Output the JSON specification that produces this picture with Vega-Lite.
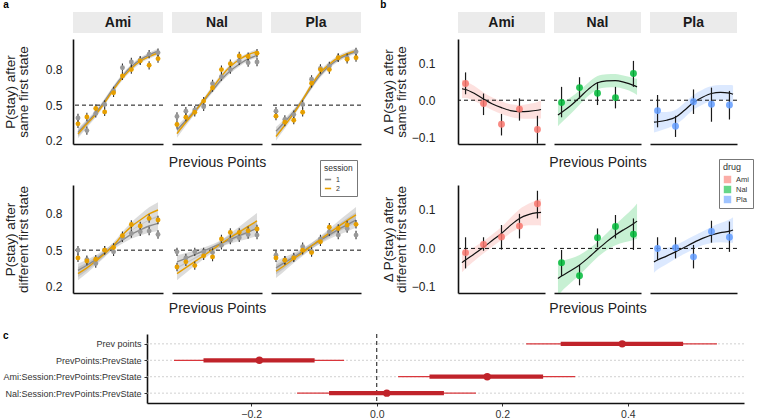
{
"$schema": "https://vega.github.io/schema/vega-lite/v6.json",
"background": "white",
"padding": {"left": 2, "top": 0, "right": 5, "bottom": 3},
"config": {
  "font": "Liberation Sans",
  "view": {"stroke": null},
  "axis": {"domainColor": "#111", "domainWidth": 1.6, "grid": false, "ticks": false, "labelFontSize": 12, "labelColor": "#222", "titleFontSize": 13.5, "titleFontWeight": "normal", "titleColor": "#222", "titleLineHeight": 13, "labelFont": "Liberation Sans", "titleFont": "Liberation Sans", "minExtent": 0},
  "title": {"fontSize": 10, "fontWeight": "bold", "anchor": "start", "frame": "bounds", "color": "#000", "font": "Liberation Sans"},
  "legend": {"titleFontSize": 8.5, "titleFontWeight": "normal", "labelFontSize": 7, "titleColor": "#333", "labelColor": "#333", "strokeColor": "#777", "fillColor": "white", "padding": 4, "rowPadding": 1, "titlePadding": 3, "labelOffset": 4, "cornerRadius": 0, "titleFont": "Liberation Sans", "labelFont": "Liberation Sans"}
},
"datasets": {
  "strips": [{"drug": "Ami"}, {"drug": "Nal"}, {"drug": "Pla"}],
  "apts": [
    {"drug":"Ami","cond":"same","session":"1","x":1,"y":0.392,"lo":0.357,"hi":0.427},
    {"drug":"Ami","cond":"same","session":"1","x":2,"y":0.285,"lo":0.25,"hi":0.32},
    {"drug":"Ami","cond":"same","session":"1","x":3,"y":0.43,"lo":0.395,"hi":0.465},
    {"drug":"Ami","cond":"same","session":"1","x":4,"y":0.506,"lo":0.471,"hi":0.541},
    {"drug":"Ami","cond":"same","session":"1","x":5,"y":0.62,"lo":0.585,"hi":0.655},
    {"drug":"Ami","cond":"same","session":"1","x":6,"y":0.816,"lo":0.781,"hi":0.851},
    {"drug":"Ami","cond":"same","session":"1","x":7,"y":0.864,"lo":0.829,"hi":0.899},
    {"drug":"Ami","cond":"same","session":"1","x":8,"y":0.88,"lo":0.845,"hi":0.915},
    {"drug":"Ami","cond":"same","session":"1","x":9,"y":0.93,"lo":0.895,"hi":0.965},
    {"drug":"Ami","cond":"same","session":"1","x":10,"y":0.943,"lo":0.908,"hi":0.978},
    {"drug":"Ami","cond":"same","session":"2","x":1,"y":0.342,"lo":0.307,"hi":0.377},
    {"drug":"Ami","cond":"same","session":"2","x":2,"y":0.4,"lo":0.365,"hi":0.435},
    {"drug":"Ami","cond":"same","session":"2","x":3,"y":0.472,"lo":0.437,"hi":0.507},
    {"drug":"Ami","cond":"same","session":"2","x":4,"y":0.443,"lo":0.408,"hi":0.478},
    {"drug":"Ami","cond":"same","session":"2","x":5,"y":0.604,"lo":0.569,"hi":0.639},
    {"drug":"Ami","cond":"same","session":"2","x":6,"y":0.746,"lo":0.711,"hi":0.781},
    {"drug":"Ami","cond":"same","session":"2","x":7,"y":0.8,"lo":0.765,"hi":0.835},
    {"drug":"Ami","cond":"same","session":"2","x":8,"y":0.873,"lo":0.838,"hi":0.908},
    {"drug":"Ami","cond":"same","session":"2","x":9,"y":0.836,"lo":0.801,"hi":0.871},
    {"drug":"Ami","cond":"same","session":"2","x":10,"y":0.892,"lo":0.857,"hi":0.927},
    {"drug":"Nal","cond":"same","session":"1","x":1,"y":0.405,"lo":0.37,"hi":0.44},
    {"drug":"Nal","cond":"same","session":"1","x":2,"y":0.449,"lo":0.414,"hi":0.484},
    {"drug":"Nal","cond":"same","session":"1","x":3,"y":0.458,"lo":0.423,"hi":0.493},
    {"drug":"Nal","cond":"same","session":"1","x":4,"y":0.486,"lo":0.451,"hi":0.521},
    {"drug":"Nal","cond":"same","session":"1","x":5,"y":0.68,"lo":0.645,"hi":0.715},
    {"drug":"Nal","cond":"same","session":"1","x":6,"y":0.74,"lo":0.705,"hi":0.775},
    {"drug":"Nal","cond":"same","session":"1","x":7,"y":0.8,"lo":0.765,"hi":0.835},
    {"drug":"Nal","cond":"same","session":"1","x":8,"y":0.873,"lo":0.838,"hi":0.908},
    {"drug":"Nal","cond":"same","session":"1","x":9,"y":0.858,"lo":0.823,"hi":0.893},
    {"drug":"Nal","cond":"same","session":"1","x":10,"y":0.864,"lo":0.829,"hi":0.899},
    {"drug":"Nal","cond":"same","session":"2","x":1,"y":0.336,"lo":0.301,"hi":0.371},
    {"drug":"Nal","cond":"same","session":"2","x":2,"y":0.398,"lo":0.363,"hi":0.433},
    {"drug":"Nal","cond":"same","session":"2","x":3,"y":0.44,"lo":0.405,"hi":0.475},
    {"drug":"Nal","cond":"same","session":"2","x":4,"y":0.534,"lo":0.499,"hi":0.569},
    {"drug":"Nal","cond":"same","session":"2","x":5,"y":0.647,"lo":0.612,"hi":0.682},
    {"drug":"Nal","cond":"same","session":"2","x":6,"y":0.8,"lo":0.765,"hi":0.835},
    {"drug":"Nal","cond":"same","session":"2","x":7,"y":0.85,"lo":0.815,"hi":0.885},
    {"drug":"Nal","cond":"same","session":"2","x":8,"y":0.915,"lo":0.88,"hi":0.95},
    {"drug":"Nal","cond":"same","session":"2","x":9,"y":0.91,"lo":0.875,"hi":0.945},
    {"drug":"Nal","cond":"same","session":"2","x":10,"y":0.938,"lo":0.903,"hi":0.973},
    {"drug":"Pla","cond":"same","session":"1","x":1,"y":0.449,"lo":0.414,"hi":0.484},
    {"drug":"Pla","cond":"same","session":"1","x":2,"y":0.379,"lo":0.344,"hi":0.414},
    {"drug":"Pla","cond":"same","session":"1","x":3,"y":0.42,"lo":0.385,"hi":0.455},
    {"drug":"Pla","cond":"same","session":"1","x":4,"y":0.506,"lo":0.471,"hi":0.541},
    {"drug":"Pla","cond":"same","session":"1","x":5,"y":0.718,"lo":0.683,"hi":0.753},
    {"drug":"Pla","cond":"same","session":"1","x":6,"y":0.81,"lo":0.775,"hi":0.845},
    {"drug":"Pla","cond":"same","session":"1","x":7,"y":0.83,"lo":0.795,"hi":0.865},
    {"drug":"Pla","cond":"same","session":"1","x":8,"y":0.9,"lo":0.865,"hi":0.935},
    {"drug":"Pla","cond":"same","session":"1","x":9,"y":0.9,"lo":0.865,"hi":0.935},
    {"drug":"Pla","cond":"same","session":"1","x":10,"y":0.95,"lo":0.915,"hi":0.985},
    {"drug":"Pla","cond":"same","session":"2","x":1,"y":0.407,"lo":0.372,"hi":0.442},
    {"drug":"Pla","cond":"same","session":"2","x":2,"y":0.356,"lo":0.321,"hi":0.391},
    {"drug":"Pla","cond":"same","session":"2","x":3,"y":0.373,"lo":0.338,"hi":0.408},
    {"drug":"Pla","cond":"same","session":"2","x":4,"y":0.44,"lo":0.405,"hi":0.475},
    {"drug":"Pla","cond":"same","session":"2","x":5,"y":0.684,"lo":0.649,"hi":0.719},
    {"drug":"Pla","cond":"same","session":"2","x":6,"y":0.8,"lo":0.765,"hi":0.835},
    {"drug":"Pla","cond":"same","session":"2","x":7,"y":0.8,"lo":0.765,"hi":0.835},
    {"drug":"Pla","cond":"same","session":"2","x":8,"y":0.9,"lo":0.865,"hi":0.935},
    {"drug":"Pla","cond":"same","session":"2","x":9,"y":0.887,"lo":0.852,"hi":0.922},
    {"drug":"Pla","cond":"same","session":"2","x":10,"y":0.9,"lo":0.865,"hi":0.935},
    {"drug":"Ami","cond":"diff","session":"1","x":1,"y":0.5,"lo":0.465,"hi":0.535},
    {"drug":"Ami","cond":"diff","session":"1","x":2,"y":0.42,"lo":0.385,"hi":0.455},
    {"drug":"Ami","cond":"diff","session":"1","x":3,"y":0.39,"lo":0.355,"hi":0.425},
    {"drug":"Ami","cond":"diff","session":"1","x":4,"y":0.5,"lo":0.465,"hi":0.535},
    {"drug":"Ami","cond":"diff","session":"1","x":5,"y":0.486,"lo":0.451,"hi":0.521},
    {"drug":"Ami","cond":"diff","session":"1","x":6,"y":0.603,"lo":0.568,"hi":0.638},
    {"drug":"Ami","cond":"diff","session":"1","x":7,"y":0.638,"lo":0.603,"hi":0.673},
    {"drug":"Ami","cond":"diff","session":"1","x":8,"y":0.652,"lo":0.617,"hi":0.687},
    {"drug":"Ami","cond":"diff","session":"1","x":9,"y":0.658,"lo":0.623,"hi":0.693},
    {"drug":"Ami","cond":"diff","session":"1","x":10,"y":0.63,"lo":0.595,"hi":0.665},
    {"drug":"Ami","cond":"diff","session":"2","x":1,"y":0.436,"lo":0.401,"hi":0.471},
    {"drug":"Ami","cond":"diff","session":"2","x":2,"y":0.41,"lo":0.375,"hi":0.445},
    {"drug":"Ami","cond":"diff","session":"2","x":3,"y":0.425,"lo":0.39,"hi":0.46},
    {"drug":"Ami","cond":"diff","session":"2","x":4,"y":0.5,"lo":0.465,"hi":0.535},
    {"drug":"Ami","cond":"diff","session":"2","x":5,"y":0.522,"lo":0.487,"hi":0.557},
    {"drug":"Ami","cond":"diff","session":"2","x":6,"y":0.62,"lo":0.585,"hi":0.655},
    {"drug":"Ami","cond":"diff","session":"2","x":7,"y":0.713,"lo":0.678,"hi":0.748},
    {"drug":"Ami","cond":"diff","session":"2","x":8,"y":0.7,"lo":0.665,"hi":0.735},
    {"drug":"Ami","cond":"diff","session":"2","x":9,"y":0.763,"lo":0.728,"hi":0.798},
    {"drug":"Ami","cond":"diff","session":"2","x":10,"y":0.75,"lo":0.715,"hi":0.785},
    {"drug":"Nal","cond":"diff","session":"1","x":1,"y":0.486,"lo":0.451,"hi":0.521},
    {"drug":"Nal","cond":"diff","session":"1","x":2,"y":0.436,"lo":0.401,"hi":0.471},
    {"drug":"Nal","cond":"diff","session":"1","x":3,"y":0.486,"lo":0.451,"hi":0.521},
    {"drug":"Nal","cond":"diff","session":"1","x":4,"y":0.486,"lo":0.451,"hi":0.521},
    {"drug":"Nal","cond":"diff","session":"1","x":5,"y":0.48,"lo":0.445,"hi":0.515},
    {"drug":"Nal","cond":"diff","session":"1","x":6,"y":0.54,"lo":0.505,"hi":0.575},
    {"drug":"Nal","cond":"diff","session":"1","x":7,"y":0.583,"lo":0.548,"hi":0.618},
    {"drug":"Nal","cond":"diff","session":"1","x":8,"y":0.603,"lo":0.568,"hi":0.638},
    {"drug":"Nal","cond":"diff","session":"1","x":9,"y":0.63,"lo":0.595,"hi":0.665},
    {"drug":"Nal","cond":"diff","session":"1","x":10,"y":0.625,"lo":0.59,"hi":0.66},
    {"drug":"Nal","cond":"diff","session":"2","x":1,"y":0.361,"lo":0.326,"hi":0.396},
    {"drug":"Nal","cond":"diff","session":"2","x":2,"y":0.403,"lo":0.368,"hi":0.438},
    {"drug":"Nal","cond":"diff","session":"2","x":3,"y":0.372,"lo":0.337,"hi":0.407},
    {"drug":"Nal","cond":"diff","session":"2","x":4,"y":0.453,"lo":0.418,"hi":0.488},
    {"drug":"Nal","cond":"diff","session":"2","x":5,"y":0.444,"lo":0.409,"hi":0.479},
    {"drug":"Nal","cond":"diff","session":"2","x":6,"y":0.592,"lo":0.557,"hi":0.627},
    {"drug":"Nal","cond":"diff","session":"2","x":7,"y":0.647,"lo":0.612,"hi":0.682},
    {"drug":"Nal","cond":"diff","session":"2","x":8,"y":0.647,"lo":0.612,"hi":0.682},
    {"drug":"Nal","cond":"diff","session":"2","x":9,"y":0.661,"lo":0.626,"hi":0.696},
    {"drug":"Nal","cond":"diff","session":"2","x":10,"y":0.675,"lo":0.64,"hi":0.71},
    {"drug":"Pla","cond":"diff","session":"1","x":1,"y":0.458,"lo":0.423,"hi":0.493},
    {"drug":"Pla","cond":"diff","session":"1","x":2,"y":0.417,"lo":0.382,"hi":0.452},
    {"drug":"Pla","cond":"diff","session":"1","x":3,"y":0.444,"lo":0.409,"hi":0.479},
    {"drug":"Pla","cond":"diff","session":"1","x":4,"y":0.528,"lo":0.493,"hi":0.563},
    {"drug":"Pla","cond":"diff","session":"1","x":5,"y":0.49,"lo":0.455,"hi":0.525},
    {"drug":"Pla","cond":"diff","session":"1","x":6,"y":0.592,"lo":0.557,"hi":0.627},
    {"drug":"Pla","cond":"diff","session":"1","x":7,"y":0.653,"lo":0.618,"hi":0.688},
    {"drug":"Pla","cond":"diff","session":"1","x":8,"y":0.625,"lo":0.59,"hi":0.66},
    {"drug":"Pla","cond":"diff","session":"1","x":9,"y":0.68,"lo":0.645,"hi":0.715},
    {"drug":"Pla","cond":"diff","session":"1","x":10,"y":0.625,"lo":0.59,"hi":0.66},
    {"drug":"Pla","cond":"diff","session":"2","x":1,"y":0.436,"lo":0.401,"hi":0.471},
    {"drug":"Pla","cond":"diff","session":"2","x":2,"y":0.417,"lo":0.382,"hi":0.452},
    {"drug":"Pla","cond":"diff","session":"2","x":3,"y":0.436,"lo":0.401,"hi":0.471},
    {"drug":"Pla","cond":"diff","session":"2","x":4,"y":0.5,"lo":0.465,"hi":0.535},
    {"drug":"Pla","cond":"diff","session":"2","x":5,"y":0.48,"lo":0.445,"hi":0.515},
    {"drug":"Pla","cond":"diff","session":"2","x":6,"y":0.57,"lo":0.535,"hi":0.605},
    {"drug":"Pla","cond":"diff","session":"2","x":7,"y":0.69,"lo":0.655,"hi":0.725},
    {"drug":"Pla","cond":"diff","session":"2","x":8,"y":0.68,"lo":0.645,"hi":0.715},
    {"drug":"Pla","cond":"diff","session":"2","x":9,"y":0.708,"lo":0.673,"hi":0.743},
    {"drug":"Pla","cond":"diff","session":"2","x":10,"y":0.714,"lo":0.679,"hi":0.749}
  ],
  "afit": [
    {"drug":"Ami","cond":"same","session":"1","x":1,"y":0.27,"lo":0.235,"hi":0.305},
    {"drug":"Ami","cond":"same","session":"1","x":2,"y":0.35,"lo":0.322,"hi":0.378},
    {"drug":"Ami","cond":"same","session":"1","x":3,"y":0.435,"lo":0.413,"hi":0.457},
    {"drug":"Ami","cond":"same","session":"1","x":4,"y":0.535,"lo":0.515,"hi":0.555},
    {"drug":"Ami","cond":"same","session":"1","x":5,"y":0.645,"lo":0.625,"hi":0.665},
    {"drug":"Ami","cond":"same","session":"1","x":6,"y":0.745,"lo":0.725,"hi":0.765},
    {"drug":"Ami","cond":"same","session":"1","x":7,"y":0.825,"lo":0.805,"hi":0.845},
    {"drug":"Ami","cond":"same","session":"1","x":8,"y":0.885,"lo":0.867,"hi":0.903},
    {"drug":"Ami","cond":"same","session":"1","x":9,"y":0.925,"lo":0.907,"hi":0.943},
    {"drug":"Ami","cond":"same","session":"1","x":10,"y":0.955,"lo":0.935,"hi":0.975},
    {"drug":"Ami","cond":"same","session":"2","x":1,"y":0.255,"lo":0.22,"hi":0.29},
    {"drug":"Ami","cond":"same","session":"2","x":2,"y":0.34,"lo":0.312,"hi":0.368},
    {"drug":"Ami","cond":"same","session":"2","x":3,"y":0.42,"lo":0.398,"hi":0.442},
    {"drug":"Ami","cond":"same","session":"2","x":4,"y":0.52,"lo":0.5,"hi":0.54},
    {"drug":"Ami","cond":"same","session":"2","x":5,"y":0.63,"lo":0.61,"hi":0.65},
    {"drug":"Ami","cond":"same","session":"2","x":6,"y":0.73,"lo":0.71,"hi":0.75},
    {"drug":"Ami","cond":"same","session":"2","x":7,"y":0.81,"lo":0.79,"hi":0.83},
    {"drug":"Ami","cond":"same","session":"2","x":8,"y":0.87,"lo":0.852,"hi":0.888},
    {"drug":"Ami","cond":"same","session":"2","x":9,"y":0.91,"lo":0.892,"hi":0.928},
    {"drug":"Ami","cond":"same","session":"2","x":10,"y":0.94,"lo":0.92,"hi":0.96},
    {"drug":"Nal","cond":"same","session":"1","x":1,"y":0.29,"lo":0.255,"hi":0.325},
    {"drug":"Nal","cond":"same","session":"1","x":2,"y":0.37,"lo":0.342,"hi":0.398},
    {"drug":"Nal","cond":"same","session":"1","x":3,"y":0.45,"lo":0.428,"hi":0.472},
    {"drug":"Nal","cond":"same","session":"1","x":4,"y":0.535,"lo":0.515,"hi":0.555},
    {"drug":"Nal","cond":"same","session":"1","x":5,"y":0.625,"lo":0.605,"hi":0.645},
    {"drug":"Nal","cond":"same","session":"1","x":6,"y":0.715,"lo":0.695,"hi":0.735},
    {"drug":"Nal","cond":"same","session":"1","x":7,"y":0.79,"lo":0.77,"hi":0.81},
    {"drug":"Nal","cond":"same","session":"1","x":8,"y":0.845,"lo":0.827,"hi":0.863},
    {"drug":"Nal","cond":"same","session":"1","x":9,"y":0.89,"lo":0.872,"hi":0.908},
    {"drug":"Nal","cond":"same","session":"1","x":10,"y":0.92,"lo":0.9,"hi":0.94},
    {"drug":"Nal","cond":"same","session":"2","x":1,"y":0.26,"lo":0.225,"hi":0.295},
    {"drug":"Nal","cond":"same","session":"2","x":2,"y":0.355,"lo":0.327,"hi":0.383},
    {"drug":"Nal","cond":"same","session":"2","x":3,"y":0.445,"lo":0.423,"hi":0.467},
    {"drug":"Nal","cond":"same","session":"2","x":4,"y":0.54,"lo":0.52,"hi":0.56},
    {"drug":"Nal","cond":"same","session":"2","x":5,"y":0.645,"lo":0.625,"hi":0.665},
    {"drug":"Nal","cond":"same","session":"2","x":6,"y":0.745,"lo":0.725,"hi":0.765},
    {"drug":"Nal","cond":"same","session":"2","x":7,"y":0.825,"lo":0.805,"hi":0.845},
    {"drug":"Nal","cond":"same","session":"2","x":8,"y":0.885,"lo":0.867,"hi":0.903},
    {"drug":"Nal","cond":"same","session":"2","x":9,"y":0.925,"lo":0.907,"hi":0.943},
    {"drug":"Nal","cond":"same","session":"2","x":10,"y":0.95,"lo":0.93,"hi":0.97},
    {"drug":"Pla","cond":"same","session":"1","x":1,"y":0.28,"lo":0.245,"hi":0.315},
    {"drug":"Pla","cond":"same","session":"1","x":2,"y":0.36,"lo":0.332,"hi":0.388},
    {"drug":"Pla","cond":"same","session":"1","x":3,"y":0.445,"lo":0.423,"hi":0.467},
    {"drug":"Pla","cond":"same","session":"1","x":4,"y":0.545,"lo":0.525,"hi":0.565},
    {"drug":"Pla","cond":"same","session":"1","x":5,"y":0.655,"lo":0.635,"hi":0.675},
    {"drug":"Pla","cond":"same","session":"1","x":6,"y":0.755,"lo":0.735,"hi":0.775},
    {"drug":"Pla","cond":"same","session":"1","x":7,"y":0.83,"lo":0.81,"hi":0.85},
    {"drug":"Pla","cond":"same","session":"1","x":8,"y":0.885,"lo":0.867,"hi":0.903},
    {"drug":"Pla","cond":"same","session":"1","x":9,"y":0.925,"lo":0.907,"hi":0.943},
    {"drug":"Pla","cond":"same","session":"1","x":10,"y":0.952,"lo":0.932,"hi":0.972},
    {"drug":"Pla","cond":"same","session":"2","x":1,"y":0.235,"lo":0.2,"hi":0.27},
    {"drug":"Pla","cond":"same","session":"2","x":2,"y":0.33,"lo":0.302,"hi":0.358},
    {"drug":"Pla","cond":"same","session":"2","x":3,"y":0.43,"lo":0.408,"hi":0.452},
    {"drug":"Pla","cond":"same","session":"2","x":4,"y":0.545,"lo":0.525,"hi":0.565},
    {"drug":"Pla","cond":"same","session":"2","x":5,"y":0.67,"lo":0.65,"hi":0.69},
    {"drug":"Pla","cond":"same","session":"2","x":6,"y":0.775,"lo":0.755,"hi":0.795},
    {"drug":"Pla","cond":"same","session":"2","x":7,"y":0.845,"lo":0.825,"hi":0.865},
    {"drug":"Pla","cond":"same","session":"2","x":8,"y":0.9,"lo":0.882,"hi":0.918},
    {"drug":"Pla","cond":"same","session":"2","x":9,"y":0.935,"lo":0.917,"hi":0.953},
    {"drug":"Pla","cond":"same","session":"2","x":10,"y":0.958,"lo":0.938,"hi":0.978},
    {"drug":"Ami","cond":"diff","session":"1","x":1,"y":0.333,"lo":0.278,"hi":0.388},
    {"drug":"Ami","cond":"diff","session":"1","x":2,"y":0.375,"lo":0.33,"hi":0.42},
    {"drug":"Ami","cond":"diff","session":"1","x":3,"y":0.422,"lo":0.387,"hi":0.457},
    {"drug":"Ami","cond":"diff","session":"1","x":4,"y":0.478,"lo":0.45,"hi":0.506},
    {"drug":"Ami","cond":"diff","session":"1","x":5,"y":0.533,"lo":0.508,"hi":0.558},
    {"drug":"Ami","cond":"diff","session":"1","x":6,"y":0.583,"lo":0.555,"hi":0.611},
    {"drug":"Ami","cond":"diff","session":"1","x":7,"y":0.63,"lo":0.595,"hi":0.665},
    {"drug":"Ami","cond":"diff","session":"1","x":8,"y":0.667,"lo":0.622,"hi":0.712},
    {"drug":"Ami","cond":"diff","session":"1","x":9,"y":0.7,"lo":0.645,"hi":0.755},
    {"drug":"Ami","cond":"diff","session":"1","x":10,"y":0.722,"lo":0.657,"hi":0.787},
    {"drug":"Ami","cond":"diff","session":"2","x":1,"y":0.305,"lo":0.25,"hi":0.36},
    {"drug":"Ami","cond":"diff","session":"2","x":2,"y":0.353,"lo":0.308,"hi":0.398},
    {"drug":"Ami","cond":"diff","session":"2","x":3,"y":0.41,"lo":0.375,"hi":0.445},
    {"drug":"Ami","cond":"diff","session":"2","x":4,"y":0.47,"lo":0.442,"hi":0.498},
    {"drug":"Ami","cond":"diff","session":"2","x":5,"y":0.54,"lo":0.515,"hi":0.565},
    {"drug":"Ami","cond":"diff","session":"2","x":6,"y":0.625,"lo":0.597,"hi":0.653},
    {"drug":"Ami","cond":"diff","session":"2","x":7,"y":0.695,"lo":0.66,"hi":0.73},
    {"drug":"Ami","cond":"diff","session":"2","x":8,"y":0.75,"lo":0.705,"hi":0.795},
    {"drug":"Ami","cond":"diff","session":"2","x":9,"y":0.8,"lo":0.745,"hi":0.855},
    {"drug":"Ami","cond":"diff","session":"2","x":10,"y":0.833,"lo":0.768,"hi":0.898},
    {"drug":"Nal","cond":"diff","session":"1","x":1,"y":0.403,"lo":0.348,"hi":0.458},
    {"drug":"Nal","cond":"diff","session":"1","x":2,"y":0.432,"lo":0.387,"hi":0.477},
    {"drug":"Nal","cond":"diff","session":"1","x":3,"y":0.463,"lo":0.428,"hi":0.498},
    {"drug":"Nal","cond":"diff","session":"1","x":4,"y":0.494,"lo":0.466,"hi":0.522},
    {"drug":"Nal","cond":"diff","session":"1","x":5,"y":0.525,"lo":0.5,"hi":0.55},
    {"drug":"Nal","cond":"diff","session":"1","x":6,"y":0.557,"lo":0.529,"hi":0.585},
    {"drug":"Nal","cond":"diff","session":"1","x":7,"y":0.59,"lo":0.555,"hi":0.625},
    {"drug":"Nal","cond":"diff","session":"1","x":8,"y":0.62,"lo":0.575,"hi":0.665},
    {"drug":"Nal","cond":"diff","session":"1","x":9,"y":0.65,"lo":0.595,"hi":0.705},
    {"drug":"Nal","cond":"diff","session":"1","x":10,"y":0.68,"lo":0.615,"hi":0.745},
    {"drug":"Nal","cond":"diff","session":"2","x":1,"y":0.305,"lo":0.25,"hi":0.36},
    {"drug":"Nal","cond":"diff","session":"2","x":2,"y":0.355,"lo":0.31,"hi":0.4},
    {"drug":"Nal","cond":"diff","session":"2","x":3,"y":0.405,"lo":0.37,"hi":0.44},
    {"drug":"Nal","cond":"diff","session":"2","x":4,"y":0.455,"lo":0.427,"hi":0.483},
    {"drug":"Nal","cond":"diff","session":"2","x":5,"y":0.505,"lo":0.48,"hi":0.53},
    {"drug":"Nal","cond":"diff","session":"2","x":6,"y":0.555,"lo":0.527,"hi":0.583},
    {"drug":"Nal","cond":"diff","session":"2","x":7,"y":0.605,"lo":0.57,"hi":0.64},
    {"drug":"Nal","cond":"diff","session":"2","x":8,"y":0.65,"lo":0.605,"hi":0.695},
    {"drug":"Nal","cond":"diff","session":"2","x":9,"y":0.697,"lo":0.642,"hi":0.752},
    {"drug":"Nal","cond":"diff","session":"2","x":10,"y":0.742,"lo":0.677,"hi":0.807},
    {"drug":"Pla","cond":"diff","session":"1","x":1,"y":0.353,"lo":0.298,"hi":0.408},
    {"drug":"Pla","cond":"diff","session":"1","x":2,"y":0.398,"lo":0.353,"hi":0.443},
    {"drug":"Pla","cond":"diff","session":"1","x":3,"y":0.443,"lo":0.408,"hi":0.478},
    {"drug":"Pla","cond":"diff","session":"1","x":4,"y":0.49,"lo":0.462,"hi":0.518},
    {"drug":"Pla","cond":"diff","session":"1","x":5,"y":0.537,"lo":0.512,"hi":0.562},
    {"drug":"Pla","cond":"diff","session":"1","x":6,"y":0.582,"lo":0.554,"hi":0.61},
    {"drug":"Pla","cond":"diff","session":"1","x":7,"y":0.627,"lo":0.592,"hi":0.662},
    {"drug":"Pla","cond":"diff","session":"1","x":8,"y":0.67,"lo":0.625,"hi":0.715},
    {"drug":"Pla","cond":"diff","session":"1","x":9,"y":0.71,"lo":0.655,"hi":0.765},
    {"drug":"Pla","cond":"diff","session":"1","x":10,"y":0.75,"lo":0.685,"hi":0.815},
    {"drug":"Pla","cond":"diff","session":"2","x":1,"y":0.325,"lo":0.27,"hi":0.38},
    {"drug":"Pla","cond":"diff","session":"2","x":2,"y":0.375,"lo":0.33,"hi":0.42},
    {"drug":"Pla","cond":"diff","session":"2","x":3,"y":0.428,"lo":0.393,"hi":0.463},
    {"drug":"Pla","cond":"diff","session":"2","x":4,"y":0.48,"lo":0.452,"hi":0.508},
    {"drug":"Pla","cond":"diff","session":"2","x":5,"y":0.535,"lo":0.51,"hi":0.56},
    {"drug":"Pla","cond":"diff","session":"2","x":6,"y":0.59,"lo":0.562,"hi":0.618},
    {"drug":"Pla","cond":"diff","session":"2","x":7,"y":0.643,"lo":0.608,"hi":0.678},
    {"drug":"Pla","cond":"diff","session":"2","x":8,"y":0.695,"lo":0.65,"hi":0.74},
    {"drug":"Pla","cond":"diff","session":"2","x":9,"y":0.745,"lo":0.69,"hi":0.8},
    {"drug":"Pla","cond":"diff","session":"2","x":10,"y":0.792,"lo":0.727,"hi":0.857}
  ],
  "bpts": [
    {"drug":"Ami","cond":"same","x":1,"y":0.045,"lo":0.016,"hi":0.075},
    {"drug":"Ami","cond":"same","x":2,"y":-0.009,"lo":-0.04,"hi":0.018},
    {"drug":"Ami","cond":"same","x":3,"y":-0.065,"lo":-0.095,"hi":-0.037},
    {"drug":"Ami","cond":"same","x":4,"y":-0.024,"lo":-0.055,"hi":0.005},
    {"drug":"Ami","cond":"same","x":5,"y":-0.079,"lo":-0.117,"hi":-0.042},
    {"drug":"Nal","cond":"same","x":1,"y":-0.006,"lo":-0.046,"hi":0.036},
    {"drug":"Nal","cond":"same","x":2,"y":0.034,"lo":0.004,"hi":0.062},
    {"drug":"Nal","cond":"same","x":3,"y":0.019,"lo":-0.013,"hi":0.049},
    {"drug":"Nal","cond":"same","x":4,"y":0.007,"lo":-0.022,"hi":0.036},
    {"drug":"Nal","cond":"same","x":5,"y":0.072,"lo":0.036,"hi":0.106},
    {"drug":"Pla","cond":"same","x":1,"y":-0.028,"lo":-0.073,"hi":0.014},
    {"drug":"Pla","cond":"same","x":2,"y":-0.07,"lo":-0.099,"hi":-0.042},
    {"drug":"Pla","cond":"same","x":3,"y":-0.004,"lo":-0.037,"hi":0.029},
    {"drug":"Pla","cond":"same","x":4,"y":-0.011,"lo":-0.058,"hi":0.034},
    {"drug":"Pla","cond":"same","x":5,"y":-0.013,"lo":-0.052,"hi":0.025},
    {"drug":"Ami","cond":"diff","x":1,"y":-0.011,"lo":-0.052,"hi":0.029},
    {"drug":"Ami","cond":"diff","x":2,"y":0.01,"lo":-0.006,"hi":0.029},
    {"drug":"Ami","cond":"diff","x":3,"y":0.03,"lo":-0.003,"hi":0.061},
    {"drug":"Ami","cond":"diff","x":4,"y":0.058,"lo":0.026,"hi":0.09},
    {"drug":"Ami","cond":"diff","x":5,"y":0.116,"lo":0.078,"hi":0.15},
    {"drug":"Nal","cond":"diff","x":1,"y":-0.037,"lo":-0.072,"hi":-0.004},
    {"drug":"Nal","cond":"diff","x":2,"y":-0.071,"lo":-0.096,"hi":-0.043},
    {"drug":"Nal","cond":"diff","x":3,"y":0.028,"lo":0.003,"hi":0.052},
    {"drug":"Nal","cond":"diff","x":4,"y":0.057,"lo":0.026,"hi":0.087},
    {"drug":"Nal","cond":"diff","x":5,"y":0.037,"lo":-0.004,"hi":0.078},
    {"drug":"Pla","cond":"diff","x":1,"y":0.0,"lo":-0.03,"hi":0.029},
    {"drug":"Pla","cond":"diff","x":2,"y":0.002,"lo":-0.026,"hi":0.029},
    {"drug":"Pla","cond":"diff","x":3,"y":-0.022,"lo":-0.052,"hi":0.009},
    {"drug":"Pla","cond":"diff","x":4,"y":0.044,"lo":0.015,"hi":0.072},
    {"drug":"Pla","cond":"diff","x":5,"y":0.029,"lo":-0.009,"hi":0.07}
  ],
  "bfit": [
    {"drug":"Ami","cond":"same","x":0.8,"y":0.031,"lo":0.006,"hi":0.056},
    {"drug":"Ami","cond":"same","x":1,"y":0.029,"lo":0.006,"hi":0.052},
    {"drug":"Ami","cond":"same","x":1.5,"y":0.018,"lo":-0.002,"hi":0.038},
    {"drug":"Ami","cond":"same","x":2,"y":0.003,"lo":-0.015,"hi":0.021},
    {"drug":"Ami","cond":"same","x":2.5,"y":-0.01,"lo":-0.027,"hi":0.007},
    {"drug":"Ami","cond":"same","x":3,"y":-0.02,"lo":-0.037,"hi":-0.003},
    {"drug":"Ami","cond":"same","x":3.5,"y":-0.028,"lo":-0.045,"hi":-0.011},
    {"drug":"Ami","cond":"same","x":4,"y":-0.031,"lo":-0.049,"hi":-0.013},
    {"drug":"Ami","cond":"same","x":4.5,"y":-0.03,"lo":-0.05,"hi":-0.01},
    {"drug":"Ami","cond":"same","x":5,"y":-0.027,"lo":-0.049,"hi":-0.005},
    {"drug":"Ami","cond":"same","x":5.2,"y":-0.025,"lo":-0.049,"hi":-0.001},
    {"drug":"Nal","cond":"same","x":0.8,"y":-0.04,"lo":-0.07,"hi":-0.01},
    {"drug":"Nal","cond":"same","x":1,"y":-0.033,"lo":-0.06,"hi":-0.006},
    {"drug":"Nal","cond":"same","x":1.5,"y":-0.015,"lo":-0.037,"hi":0.007},
    {"drug":"Nal","cond":"same","x":2,"y":0.007,"lo":-0.012,"hi":0.026},
    {"drug":"Nal","cond":"same","x":2.5,"y":0.03,"lo":0.012,"hi":0.048},
    {"drug":"Nal","cond":"same","x":3,"y":0.047,"lo":0.029,"hi":0.065},
    {"drug":"Nal","cond":"same","x":3.5,"y":0.052,"lo":0.034,"hi":0.07},
    {"drug":"Nal","cond":"same","x":4,"y":0.053,"lo":0.035,"hi":0.071},
    {"drug":"Nal","cond":"same","x":4.5,"y":0.048,"lo":0.03,"hi":0.066},
    {"drug":"Nal","cond":"same","x":5,"y":0.04,"lo":0.02,"hi":0.06},
    {"drug":"Nal","cond":"same","x":5.2,"y":0.036,"lo":0.014,"hi":0.058},
    {"drug":"Pla","cond":"same","x":0.8,"y":-0.059,"lo":-0.087,"hi":-0.031},
    {"drug":"Pla","cond":"same","x":1,"y":-0.058,"lo":-0.084,"hi":-0.032},
    {"drug":"Pla","cond":"same","x":1.5,"y":-0.054,"lo":-0.076,"hi":-0.032},
    {"drug":"Pla","cond":"same","x":2,"y":-0.046,"lo":-0.066,"hi":-0.026},
    {"drug":"Pla","cond":"same","x":2.5,"y":-0.027,"lo":-0.047,"hi":-0.007},
    {"drug":"Pla","cond":"same","x":3,"y":-0.006,"lo":-0.026,"hi":0.014},
    {"drug":"Pla","cond":"same","x":3.5,"y":0.008,"lo":-0.012,"hi":0.028},
    {"drug":"Pla","cond":"same","x":4,"y":0.018,"lo":-0.002,"hi":0.038},
    {"drug":"Pla","cond":"same","x":4.5,"y":0.021,"lo":0.001,"hi":0.041},
    {"drug":"Pla","cond":"same","x":5,"y":0.019,"lo":-0.003,"hi":0.041},
    {"drug":"Pla","cond":"same","x":5.2,"y":0.016,"lo":-0.008,"hi":0.04},
    {"drug":"Ami","cond":"diff","x":0.8,"y":-0.037,"lo":-0.062,"hi":-0.012},
    {"drug":"Ami","cond":"diff","x":1,"y":-0.03,"lo":-0.052,"hi":-0.008},
    {"drug":"Ami","cond":"diff","x":1.5,"y":-0.014,"lo":-0.032,"hi":0.004},
    {"drug":"Ami","cond":"diff","x":2,"y":0.003,"lo":-0.013,"hi":0.019},
    {"drug":"Ami","cond":"diff","x":2.5,"y":0.021,"lo":0.005,"hi":0.037},
    {"drug":"Ami","cond":"diff","x":3,"y":0.039,"lo":0.022,"hi":0.056},
    {"drug":"Ami","cond":"diff","x":3.5,"y":0.06,"lo":0.04,"hi":0.08},
    {"drug":"Ami","cond":"diff","x":4,"y":0.078,"lo":0.054,"hi":0.102},
    {"drug":"Ami","cond":"diff","x":4.5,"y":0.088,"lo":0.06,"hi":0.116},
    {"drug":"Ami","cond":"diff","x":5,"y":0.093,"lo":0.06,"hi":0.126},
    {"drug":"Ami","cond":"diff","x":5.2,"y":0.094,"lo":0.059,"hi":0.129},
    {"drug":"Nal","cond":"diff","x":0.8,"y":-0.078,"lo":-0.123,"hi":-0.033},
    {"drug":"Nal","cond":"diff","x":1,"y":-0.072,"lo":-0.112,"hi":-0.032},
    {"drug":"Nal","cond":"diff","x":1.5,"y":-0.058,"lo":-0.09,"hi":-0.026},
    {"drug":"Nal","cond":"diff","x":2,"y":-0.043,"lo":-0.069,"hi":-0.017},
    {"drug":"Nal","cond":"diff","x":2.5,"y":-0.024,"lo":-0.046,"hi":-0.002},
    {"drug":"Nal","cond":"diff","x":3,"y":-0.003,"lo":-0.023,"hi":0.017},
    {"drug":"Nal","cond":"diff","x":3.5,"y":0.017,"lo":-0.005,"hi":0.039},
    {"drug":"Nal","cond":"diff","x":4,"y":0.035,"lo":0.008,"hi":0.062},
    {"drug":"Nal","cond":"diff","x":4.5,"y":0.05,"lo":0.016,"hi":0.084},
    {"drug":"Nal","cond":"diff","x":5,"y":0.064,"lo":0.022,"hi":0.106},
    {"drug":"Nal","cond":"diff","x":5.2,"y":0.071,"lo":0.025,"hi":0.117},
    {"drug":"Pla","cond":"diff","x":0.8,"y":-0.035,"lo":-0.063,"hi":-0.007},
    {"drug":"Pla","cond":"diff","x":1,"y":-0.03,"lo":-0.055,"hi":-0.005},
    {"drug":"Pla","cond":"diff","x":1.5,"y":-0.02,"lo":-0.041,"hi":0.001},
    {"drug":"Pla","cond":"diff","x":2,"y":-0.009,"lo":-0.027,"hi":0.009},
    {"drug":"Pla","cond":"diff","x":2.5,"y":0.003,"lo":-0.014,"hi":0.02},
    {"drug":"Pla","cond":"diff","x":3,"y":0.015,"lo":-0.002,"hi":0.032},
    {"drug":"Pla","cond":"diff","x":3.5,"y":0.026,"lo":0.008,"hi":0.044},
    {"drug":"Pla","cond":"diff","x":4,"y":0.035,"lo":0.014,"hi":0.056},
    {"drug":"Pla","cond":"diff","x":4.5,"y":0.041,"lo":0.016,"hi":0.066},
    {"drug":"Pla","cond":"diff","x":5,"y":0.045,"lo":0.015,"hi":0.075},
    {"drug":"Pla","cond":"diff","x":5.2,"y":0.048,"lo":0.015,"hi":0.081}
  ],
  "cdat": [
    {"term":"Prev points","est":0.391,"lo50":0.293,"hi50":0.488,"lo95":0.238,"hi95":0.542},
    {"term":"PrevPoints:PrevState","est":-0.187,"lo50":-0.276,"hi50":-0.099,"lo95":-0.323,"hi95":-0.052},
    {"term":"Ami:Session:PrevPoints:PrevState","est":0.176,"lo50":0.084,"hi50":0.265,"lo95":0.034,"hi95":0.316},
    {"term":"Nal:Session:PrevPoints:PrevState","est":0.016,"lo50":-0.076,"hi50":0.107,"lo95":-0.127,"hi95":0.158}
  ]
},
"spacing": 15,
"resolve": {"scale": {"stroke": "independent", "color": "independent"}, "legend": {"stroke": "independent", "color": "independent"}},
"vconcat": [
 {"columns": 7,
  "spacing": {"row": 41, "column": 9},
  "bounds": "flush",
  "align": "each",
  "resolve": {"scale": {"stroke": "independent", "color": "independent"}, "legend": {"stroke": "independent", "color": "independent"}},
  "concat": [
  {"width": 90, "height": 105, "title": {"text": "a", "dx": 0, "offset": 2}, "resolve": {"scale": {"y": "independent"}}, "layer": [
    {"layer": [
      {"data": {"name": "afit"}, "transform": [{"filter": "datum.drug=='Ami'&&datum.cond=='same'"}], "mark": {"type": "area", "interpolate": "monotone", "color": "#8c8c8c", "opacity": 0.3}, "encoding": {"x": {"field": "x", "type": "quantitative", "scale": {"domain": [0.44, 10.56], "nice": false, "zero": false}, "axis": {"title": null, "labels": false}}, "y": {"field": "lo", "type": "quantitative", "scale": {"domain": [0.172, 1.058], "nice": false, "zero": false}, "axis": {"title": ["P(stay) after", "same first state"], "values": [0.2, 0.5, 0.8], "format": ".1f", "labelPadding": 11, "titlePadding": 15}}, "y2": {"field": "hi"}, "detail": {"field": "session"}}},
      {"data": {"values": [{"ref": 0.5}]}, "mark": {"type": "rule", "strokeDash": [4, 3], "color": "#111", "strokeWidth": 1}, "encoding": {"y": {"field": "ref", "type": "quantitative", "scale": {"domain": [0.172, 1.058], "nice": false, "zero": false}, "axis": {"title": ["P(stay) after", "same first state"], "values": [0.2, 0.5, 0.8], "format": ".1f", "labelPadding": 11, "titlePadding": 15}}}},
      {"data": {"name": "afit"}, "transform": [{"filter": "datum.drug=='Ami'&&datum.cond=='same'"}], "mark": {"type": "line", "interpolate": "monotone", "strokeWidth": 1.4}, "encoding": {"x": {"field": "x", "type": "quantitative", "scale": {"domain": [0.44, 10.56], "nice": false, "zero": false}, "axis": {"title": null, "labels": false}}, "y": {"field": "y", "type": "quantitative", "scale": {"domain": [0.172, 1.058], "nice": false, "zero": false}, "axis": {"title": ["P(stay) after", "same first state"], "values": [0.2, 0.5, 0.8], "format": ".1f", "labelPadding": 11, "titlePadding": 15}}, "stroke": {"field": "session", "type": "nominal", "scale": {"domain": ["1", "2"], "range": ["#8a8a8a", "#E69F00"]}, "legend": null}}},
      {"data": {"name": "apts"}, "transform": [{"filter": "datum.drug=='Ami'&&datum.cond=='same'"}], "mark": {"type": "rule", "color": "#333", "strokeWidth": 1.1}, "encoding": {"x": {"field": "x", "type": "quantitative", "scale": {"domain": [0.44, 10.56], "nice": false, "zero": false}, "axis": {"title": null, "labels": false}}, "y": {"field": "lo", "type": "quantitative", "scale": {"domain": [0.172, 1.058], "nice": false, "zero": false}, "axis": {"title": ["P(stay) after", "same first state"], "values": [0.2, 0.5, 0.8], "format": ".1f", "labelPadding": 11, "titlePadding": 15}}, "y2": {"field": "hi"}}},
      {"data": {"name": "apts"}, "transform": [{"filter": "datum.drug=='Ami'&&datum.cond=='same'"}], "mark": {"type": "circle", "size": 24, "opacity": 1}, "encoding": {"x": {"field": "x", "type": "quantitative", "scale": {"domain": [0.44, 10.56], "nice": false, "zero": false}, "axis": {"title": null, "labels": false}}, "y": {"field": "y", "type": "quantitative", "scale": {"domain": [0.172, 1.058], "nice": false, "zero": false}, "axis": {"title": ["P(stay) after", "same first state"], "values": [0.2, 0.5, 0.8], "format": ".1f", "labelPadding": 11, "titlePadding": 15}}, "fill": {"field": "session", "type": "nominal", "scale": {"domain": ["1", "2"], "range": ["#999999", "#E69F00"]}, "legend": null}}}
    ]},
    {"data": {"name": "strips"}, "transform": [{"filter": "datum.drug=='Ami'"}], "layer": [
      {"mark": {"type": "rect", "color": "#ebebeb"}, "encoding": {"y": {"datum": 1.0571, "type": "quantitative", "scale": {"domain": [0, 1], "nice": false, "zero": false}, "axis": null}, "y2": {"datum": 1.2571}}},
      {"mark": {"type": "text", "fontSize": 14, "fontWeight": "bold", "color": "#1a1a1a"}, "encoding": {"y": {"datum": 1.1571, "type": "quantitative", "scale": {"domain": [0, 1], "nice": false, "zero": false}, "axis": null}, "text": {"field": "drug"}}}
    ]}
  ]},
  {"width": 90, "height": 105, "resolve": {"scale": {"y": "independent"}}, "layer": [
    {"layer": [
      {"data": {"name": "afit"}, "transform": [{"filter": "datum.drug=='Nal'&&datum.cond=='same'"}], "mark": {"type": "area", "interpolate": "monotone", "color": "#8c8c8c", "opacity": 0.3}, "encoding": {"x": {"field": "x", "type": "quantitative", "scale": {"domain": [0.44, 10.56], "nice": false, "zero": false}, "axis": {"title": "Previous Points", "labels": false, "titlePadding": 11, "titleFontSize": 14, "titleLimit": 400}}, "y": {"field": "lo", "type": "quantitative", "scale": {"domain": [0.172, 1.058], "nice": false, "zero": false}, "axis": null}, "y2": {"field": "hi"}, "detail": {"field": "session"}}},
      {"data": {"values": [{"ref": 0.5}]}, "mark": {"type": "rule", "strokeDash": [4, 3], "color": "#111", "strokeWidth": 1}, "encoding": {"y": {"field": "ref", "type": "quantitative", "scale": {"domain": [0.172, 1.058], "nice": false, "zero": false}, "axis": null}}},
      {"data": {"name": "afit"}, "transform": [{"filter": "datum.drug=='Nal'&&datum.cond=='same'"}], "mark": {"type": "line", "interpolate": "monotone", "strokeWidth": 1.4}, "encoding": {"x": {"field": "x", "type": "quantitative", "scale": {"domain": [0.44, 10.56], "nice": false, "zero": false}, "axis": {"title": "Previous Points", "labels": false, "titlePadding": 11, "titleFontSize": 14, "titleLimit": 400}}, "y": {"field": "y", "type": "quantitative", "scale": {"domain": [0.172, 1.058], "nice": false, "zero": false}, "axis": null}, "stroke": {"field": "session", "type": "nominal", "scale": {"domain": ["1", "2"], "range": ["#8a8a8a", "#E69F00"]}, "legend": null}}},
      {"data": {"name": "apts"}, "transform": [{"filter": "datum.drug=='Nal'&&datum.cond=='same'"}], "mark": {"type": "rule", "color": "#333", "strokeWidth": 1.1}, "encoding": {"x": {"field": "x", "type": "quantitative", "scale": {"domain": [0.44, 10.56], "nice": false, "zero": false}, "axis": {"title": "Previous Points", "labels": false, "titlePadding": 11, "titleFontSize": 14, "titleLimit": 400}}, "y": {"field": "lo", "type": "quantitative", "scale": {"domain": [0.172, 1.058], "nice": false, "zero": false}, "axis": null}, "y2": {"field": "hi"}}},
      {"data": {"name": "apts"}, "transform": [{"filter": "datum.drug=='Nal'&&datum.cond=='same'"}], "mark": {"type": "circle", "size": 24, "opacity": 1}, "encoding": {"x": {"field": "x", "type": "quantitative", "scale": {"domain": [0.44, 10.56], "nice": false, "zero": false}, "axis": {"title": "Previous Points", "labels": false, "titlePadding": 11, "titleFontSize": 14, "titleLimit": 400}}, "y": {"field": "y", "type": "quantitative", "scale": {"domain": [0.172, 1.058], "nice": false, "zero": false}, "axis": null}, "fill": {"field": "session", "type": "nominal", "scale": {"domain": ["1", "2"], "range": ["#999999", "#E69F00"]}, "legend": null}}}
    ]},
    {"data": {"name": "strips"}, "transform": [{"filter": "datum.drug=='Nal'"}], "layer": [
      {"mark": {"type": "rect", "color": "#ebebeb"}, "encoding": {"y": {"datum": 1.0571, "type": "quantitative", "scale": {"domain": [0, 1], "nice": false, "zero": false}, "axis": null}, "y2": {"datum": 1.2571}}},
      {"mark": {"type": "text", "fontSize": 14, "fontWeight": "bold", "color": "#1a1a1a"}, "encoding": {"y": {"datum": 1.1571, "type": "quantitative", "scale": {"domain": [0, 1], "nice": false, "zero": false}, "axis": null}, "text": {"field": "drug"}}}
    ]}
  ]},
  {"width": 90, "height": 105, "resolve": {"scale": {"y": "independent"}}, "layer": [
    {"layer": [
      {"data": {"name": "afit"}, "transform": [{"filter": "datum.drug=='Pla'&&datum.cond=='same'"}], "mark": {"type": "area", "interpolate": "monotone", "color": "#8c8c8c", "opacity": 0.3}, "encoding": {"x": {"field": "x", "type": "quantitative", "scale": {"domain": [0.44, 10.56], "nice": false, "zero": false}, "axis": {"title": null, "labels": false}}, "y": {"field": "lo", "type": "quantitative", "scale": {"domain": [0.172, 1.058], "nice": false, "zero": false}, "axis": null}, "y2": {"field": "hi"}, "detail": {"field": "session"}}},
      {"data": {"values": [{"ref": 0.5}]}, "mark": {"type": "rule", "strokeDash": [4, 3], "color": "#111", "strokeWidth": 1}, "encoding": {"y": {"field": "ref", "type": "quantitative", "scale": {"domain": [0.172, 1.058], "nice": false, "zero": false}, "axis": null}}},
      {"data": {"name": "afit"}, "transform": [{"filter": "datum.drug=='Pla'&&datum.cond=='same'"}], "mark": {"type": "line", "interpolate": "monotone", "strokeWidth": 1.4}, "encoding": {"x": {"field": "x", "type": "quantitative", "scale": {"domain": [0.44, 10.56], "nice": false, "zero": false}, "axis": {"title": null, "labels": false}}, "y": {"field": "y", "type": "quantitative", "scale": {"domain": [0.172, 1.058], "nice": false, "zero": false}, "axis": null}, "stroke": {"field": "session", "type": "nominal", "scale": {"domain": ["1", "2"], "range": ["#8a8a8a", "#E69F00"]}, "legend": null}}},
      {"data": {"name": "apts"}, "transform": [{"filter": "datum.drug=='Pla'&&datum.cond=='same'"}], "mark": {"type": "rule", "color": "#333", "strokeWidth": 1.1}, "encoding": {"x": {"field": "x", "type": "quantitative", "scale": {"domain": [0.44, 10.56], "nice": false, "zero": false}, "axis": {"title": null, "labels": false}}, "y": {"field": "lo", "type": "quantitative", "scale": {"domain": [0.172, 1.058], "nice": false, "zero": false}, "axis": null}, "y2": {"field": "hi"}}},
      {"data": {"name": "apts"}, "transform": [{"filter": "datum.drug=='Pla'&&datum.cond=='same'"}], "mark": {"type": "circle", "size": 24, "opacity": 1}, "encoding": {"x": {"field": "x", "type": "quantitative", "scale": {"domain": [0.44, 10.56], "nice": false, "zero": false}, "axis": {"title": null, "labels": false}}, "y": {"field": "y", "type": "quantitative", "scale": {"domain": [0.172, 1.058], "nice": false, "zero": false}, "axis": null}, "fill": {"field": "session", "type": "nominal", "scale": {"domain": ["1", "2"], "range": ["#999999", "#E69F00"]}, "legend": null}}}
    ]},
    {"data": {"name": "strips"}, "transform": [{"filter": "datum.drug=='Pla'"}], "layer": [
      {"mark": {"type": "rect", "color": "#ebebeb"}, "encoding": {"y": {"datum": 1.0571, "type": "quantitative", "scale": {"domain": [0, 1], "nice": false, "zero": false}, "axis": null}, "y2": {"datum": 1.2571}}},
      {"mark": {"type": "text", "fontSize": 14, "fontWeight": "bold", "color": "#1a1a1a"}, "encoding": {"y": {"datum": 1.1571, "type": "quantitative", "scale": {"domain": [0, 1], "nice": false, "zero": false}, "axis": null}, "text": {"field": "drug"}}}
    ]}
  ]},
  {"width": 79, "height": 105, "data": {"values": []}, "mark": "point"},
  {"width": 87, "height": 105, "title": {"text": "b", "dx": -1, "offset": 2}, "resolve": {"scale": {"y": "independent"}}, "layer": [
    {"layer": [
      {"data": {"name": "bfit"}, "transform": [{"filter": "datum.drug=='Ami'&&datum.cond=='same'"}], "mark": {"type": "area", "interpolate": "monotone", "opacity": 0.22, "clip": true}, "encoding": {"x": {"field": "x", "type": "quantitative", "scale": {"domain": [0.58, 5.42], "nice": false, "zero": false}, "axis": {"title": null, "labels": false}}, "y": {"field": "lo", "type": "quantitative", "scale": {"domain": [-0.118, 0.165], "nice": false, "zero": false}, "axis": {"title": ["Δ P(stay) after", "same first state"], "values": [-0.1, 0, 0.1], "format": ".1f", "labelPadding": 23, "titlePadding": 3}}, "y2": {"field": "hi"}, "color": {"field": "drug", "type": "nominal", "scale": {"domain": ["Ami", "Nal", "Pla"], "range": ["#F8766D", "#00BA38", "#619CFF"]}, "legend": null}}},
      {"data": {"values": [{"ref": 0}]}, "mark": {"type": "rule", "strokeDash": [4, 3], "color": "#111", "strokeWidth": 1}, "encoding": {"y": {"field": "ref", "type": "quantitative", "scale": {"domain": [-0.118, 0.165], "nice": false, "zero": false}, "axis": {"title": ["Δ P(stay) after", "same first state"], "values": [-0.1, 0, 0.1], "format": ".1f", "labelPadding": 23, "titlePadding": 3}}}},
      {"data": {"name": "bfit"}, "transform": [{"filter": "datum.drug=='Ami'&&datum.cond=='same'"}], "mark": {"type": "line", "interpolate": "monotone", "color": "#111", "strokeWidth": 1.2}, "encoding": {"x": {"field": "x", "type": "quantitative", "scale": {"domain": [0.58, 5.42], "nice": false, "zero": false}, "axis": {"title": null, "labels": false}}, "y": {"field": "y", "type": "quantitative", "scale": {"domain": [-0.118, 0.165], "nice": false, "zero": false}, "axis": {"title": ["Δ P(stay) after", "same first state"], "values": [-0.1, 0, 0.1], "format": ".1f", "labelPadding": 23, "titlePadding": 3}}}},
      {"data": {"name": "bpts"}, "transform": [{"filter": "datum.drug=='Ami'&&datum.cond=='same'"}], "mark": {"type": "rule", "color": "#1a1a1a", "strokeWidth": 1.2, "clip": true}, "encoding": {"x": {"field": "x", "type": "quantitative", "scale": {"domain": [0.58, 5.42], "nice": false, "zero": false}, "axis": {"title": null, "labels": false}}, "y": {"field": "lo", "type": "quantitative", "scale": {"domain": [-0.118, 0.165], "nice": false, "zero": false}, "axis": {"title": ["Δ P(stay) after", "same first state"], "values": [-0.1, 0, 0.1], "format": ".1f", "labelPadding": 23, "titlePadding": 3}}, "y2": {"field": "hi"}}},
      {"data": {"name": "bpts"}, "transform": [{"filter": "datum.drug=='Ami'&&datum.cond=='same'"}], "mark": {"type": "circle", "size": 48, "opacity": 0.85}, "encoding": {"x": {"field": "x", "type": "quantitative", "scale": {"domain": [0.58, 5.42], "nice": false, "zero": false}, "axis": {"title": null, "labels": false}}, "y": {"field": "y", "type": "quantitative", "scale": {"domain": [-0.118, 0.165], "nice": false, "zero": false}, "axis": {"title": ["Δ P(stay) after", "same first state"], "values": [-0.1, 0, 0.1], "format": ".1f", "labelPadding": 23, "titlePadding": 3}}, "color": {"field": "drug", "type": "nominal", "scale": {"domain": ["Ami", "Nal", "Pla"], "range": ["#F8766D", "#00BA38", "#619CFF"]}, "legend": null}}}
    ]},
    {"data": {"name": "strips"}, "transform": [{"filter": "datum.drug=='Ami'"}], "layer": [
      {"mark": {"type": "rect", "color": "#ebebeb"}, "encoding": {"y": {"datum": 1.0571, "type": "quantitative", "scale": {"domain": [0, 1], "nice": false, "zero": false}, "axis": null}, "y2": {"datum": 1.2571}}},
      {"mark": {"type": "text", "fontSize": 14, "fontWeight": "bold", "color": "#1a1a1a"}, "encoding": {"y": {"datum": 1.1571, "type": "quantitative", "scale": {"domain": [0, 1], "nice": false, "zero": false}, "axis": null}, "text": {"field": "drug"}}}
    ]}
  ]},
  {"width": 87, "height": 105, "resolve": {"scale": {"y": "independent"}}, "layer": [
    {"layer": [
      {"data": {"name": "bfit"}, "transform": [{"filter": "datum.drug=='Nal'&&datum.cond=='same'"}], "mark": {"type": "area", "interpolate": "monotone", "opacity": 0.22, "clip": true}, "encoding": {"x": {"field": "x", "type": "quantitative", "scale": {"domain": [0.58, 5.42], "nice": false, "zero": false}, "axis": {"title": "Previous Points", "labels": false, "titlePadding": 11, "titleFontSize": 14, "titleLimit": 400}}, "y": {"field": "lo", "type": "quantitative", "scale": {"domain": [-0.118, 0.165], "nice": false, "zero": false}, "axis": null}, "y2": {"field": "hi"}, "color": {"field": "drug", "type": "nominal", "scale": {"domain": ["Ami", "Nal", "Pla"], "range": ["#F8766D", "#00BA38", "#619CFF"]}, "legend": null}}},
      {"data": {"values": [{"ref": 0}]}, "mark": {"type": "rule", "strokeDash": [4, 3], "color": "#111", "strokeWidth": 1}, "encoding": {"y": {"field": "ref", "type": "quantitative", "scale": {"domain": [-0.118, 0.165], "nice": false, "zero": false}, "axis": null}}},
      {"data": {"name": "bfit"}, "transform": [{"filter": "datum.drug=='Nal'&&datum.cond=='same'"}], "mark": {"type": "line", "interpolate": "monotone", "color": "#111", "strokeWidth": 1.2}, "encoding": {"x": {"field": "x", "type": "quantitative", "scale": {"domain": [0.58, 5.42], "nice": false, "zero": false}, "axis": {"title": "Previous Points", "labels": false, "titlePadding": 11, "titleFontSize": 14, "titleLimit": 400}}, "y": {"field": "y", "type": "quantitative", "scale": {"domain": [-0.118, 0.165], "nice": false, "zero": false}, "axis": null}}},
      {"data": {"name": "bpts"}, "transform": [{"filter": "datum.drug=='Nal'&&datum.cond=='same'"}], "mark": {"type": "rule", "color": "#1a1a1a", "strokeWidth": 1.2, "clip": true}, "encoding": {"x": {"field": "x", "type": "quantitative", "scale": {"domain": [0.58, 5.42], "nice": false, "zero": false}, "axis": {"title": "Previous Points", "labels": false, "titlePadding": 11, "titleFontSize": 14, "titleLimit": 400}}, "y": {"field": "lo", "type": "quantitative", "scale": {"domain": [-0.118, 0.165], "nice": false, "zero": false}, "axis": null}, "y2": {"field": "hi"}}},
      {"data": {"name": "bpts"}, "transform": [{"filter": "datum.drug=='Nal'&&datum.cond=='same'"}], "mark": {"type": "circle", "size": 48, "opacity": 0.85}, "encoding": {"x": {"field": "x", "type": "quantitative", "scale": {"domain": [0.58, 5.42], "nice": false, "zero": false}, "axis": {"title": "Previous Points", "labels": false, "titlePadding": 11, "titleFontSize": 14, "titleLimit": 400}}, "y": {"field": "y", "type": "quantitative", "scale": {"domain": [-0.118, 0.165], "nice": false, "zero": false}, "axis": null}, "color": {"field": "drug", "type": "nominal", "scale": {"domain": ["Ami", "Nal", "Pla"], "range": ["#F8766D", "#00BA38", "#619CFF"]}, "legend": null}}}
    ]},
    {"data": {"name": "strips"}, "transform": [{"filter": "datum.drug=='Nal'"}], "layer": [
      {"mark": {"type": "rect", "color": "#ebebeb"}, "encoding": {"y": {"datum": 1.0571, "type": "quantitative", "scale": {"domain": [0, 1], "nice": false, "zero": false}, "axis": null}, "y2": {"datum": 1.2571}}},
      {"mark": {"type": "text", "fontSize": 14, "fontWeight": "bold", "color": "#1a1a1a"}, "encoding": {"y": {"datum": 1.1571, "type": "quantitative", "scale": {"domain": [0, 1], "nice": false, "zero": false}, "axis": null}, "text": {"field": "drug"}}}
    ]}
  ]},
  {"width": 87, "height": 105, "resolve": {"scale": {"y": "independent"}}, "layer": [
    {"layer": [
      {"data": {"name": "bfit"}, "transform": [{"filter": "datum.drug=='Pla'&&datum.cond=='same'"}], "mark": {"type": "area", "interpolate": "monotone", "opacity": 0.22, "clip": true}, "encoding": {"x": {"field": "x", "type": "quantitative", "scale": {"domain": [0.58, 5.42], "nice": false, "zero": false}, "axis": {"title": null, "labels": false}}, "y": {"field": "lo", "type": "quantitative", "scale": {"domain": [-0.118, 0.165], "nice": false, "zero": false}, "axis": null}, "y2": {"field": "hi"}, "color": {"field": "drug", "type": "nominal", "scale": {"domain": ["Ami", "Nal", "Pla"], "range": ["#F8766D", "#00BA38", "#619CFF"]}, "legend": null}}},
      {"data": {"values": [{"ref": 0}]}, "mark": {"type": "rule", "strokeDash": [4, 3], "color": "#111", "strokeWidth": 1}, "encoding": {"y": {"field": "ref", "type": "quantitative", "scale": {"domain": [-0.118, 0.165], "nice": false, "zero": false}, "axis": null}}},
      {"data": {"name": "bfit"}, "transform": [{"filter": "datum.drug=='Pla'&&datum.cond=='same'"}], "mark": {"type": "line", "interpolate": "monotone", "color": "#111", "strokeWidth": 1.2}, "encoding": {"x": {"field": "x", "type": "quantitative", "scale": {"domain": [0.58, 5.42], "nice": false, "zero": false}, "axis": {"title": null, "labels": false}}, "y": {"field": "y", "type": "quantitative", "scale": {"domain": [-0.118, 0.165], "nice": false, "zero": false}, "axis": null}}},
      {"data": {"name": "bpts"}, "transform": [{"filter": "datum.drug=='Pla'&&datum.cond=='same'"}], "mark": {"type": "rule", "color": "#1a1a1a", "strokeWidth": 1.2, "clip": true}, "encoding": {"x": {"field": "x", "type": "quantitative", "scale": {"domain": [0.58, 5.42], "nice": false, "zero": false}, "axis": {"title": null, "labels": false}}, "y": {"field": "lo", "type": "quantitative", "scale": {"domain": [-0.118, 0.165], "nice": false, "zero": false}, "axis": null}, "y2": {"field": "hi"}}},
      {"data": {"name": "bpts"}, "transform": [{"filter": "datum.drug=='Pla'&&datum.cond=='same'"}], "mark": {"type": "circle", "size": 48, "opacity": 0.85}, "encoding": {"x": {"field": "x", "type": "quantitative", "scale": {"domain": [0.58, 5.42], "nice": false, "zero": false}, "axis": {"title": null, "labels": false}}, "y": {"field": "y", "type": "quantitative", "scale": {"domain": [-0.118, 0.165], "nice": false, "zero": false}, "axis": null}, "color": {"field": "drug", "type": "nominal", "scale": {"domain": ["Ami", "Nal", "Pla"], "range": ["#F8766D", "#00BA38", "#619CFF"]}, "legend": null}}}
    ]},
    {"data": {"name": "strips"}, "transform": [{"filter": "datum.drug=='Pla'"}], "layer": [
      {"mark": {"type": "rect", "color": "#ebebeb"}, "encoding": {"y": {"datum": 1.0571, "type": "quantitative", "scale": {"domain": [0, 1], "nice": false, "zero": false}, "axis": null}, "y2": {"datum": 1.2571}}},
      {"mark": {"type": "text", "fontSize": 14, "fontWeight": "bold", "color": "#1a1a1a"}, "encoding": {"y": {"datum": 1.1571, "type": "quantitative", "scale": {"domain": [0, 1], "nice": false, "zero": false}, "axis": null}, "text": {"field": "drug"}}}
    ]}
  ]},
  {"width": 90, "height": 108, "layer": [
    {"data": {"name": "afit"}, "transform": [{"filter": "datum.drug=='Ami'&&datum.cond=='diff'"}], "mark": {"type": "area", "interpolate": "monotone", "color": "#8c8c8c", "opacity": 0.3}, "encoding": {"x": {"field": "x", "type": "quantitative", "scale": {"domain": [0.44, 10.56], "nice": false, "zero": false}, "axis": {"title": null, "labels": false}}, "y": {"field": "lo", "type": "quantitative", "scale": {"domain": [0.145, 1.04], "nice": false, "zero": false}, "axis": {"title": ["P(stay) after", "different first state"], "values": [0.2, 0.5, 0.8], "format": ".1f", "labelPadding": 11, "titlePadding": 15}}, "y2": {"field": "hi"}, "detail": {"field": "session"}}},
    {"data": {"values": [{"ref": 0.5}]}, "mark": {"type": "rule", "strokeDash": [4, 3], "color": "#111", "strokeWidth": 1}, "encoding": {"y": {"field": "ref", "type": "quantitative", "scale": {"domain": [0.145, 1.04], "nice": false, "zero": false}, "axis": {"title": ["P(stay) after", "different first state"], "values": [0.2, 0.5, 0.8], "format": ".1f", "labelPadding": 11, "titlePadding": 15}}}},
    {"data": {"name": "afit"}, "transform": [{"filter": "datum.drug=='Ami'&&datum.cond=='diff'"}], "mark": {"type": "line", "interpolate": "monotone", "strokeWidth": 1.4}, "encoding": {"x": {"field": "x", "type": "quantitative", "scale": {"domain": [0.44, 10.56], "nice": false, "zero": false}, "axis": {"title": null, "labels": false}}, "y": {"field": "y", "type": "quantitative", "scale": {"domain": [0.145, 1.04], "nice": false, "zero": false}, "axis": {"title": ["P(stay) after", "different first state"], "values": [0.2, 0.5, 0.8], "format": ".1f", "labelPadding": 11, "titlePadding": 15}}, "stroke": {"field": "session", "type": "nominal", "scale": {"domain": ["1", "2"], "range": ["#8a8a8a", "#E69F00"]}, "legend": null}}},
    {"data": {"name": "apts"}, "transform": [{"filter": "datum.drug=='Ami'&&datum.cond=='diff'"}], "mark": {"type": "rule", "color": "#333", "strokeWidth": 1.1}, "encoding": {"x": {"field": "x", "type": "quantitative", "scale": {"domain": [0.44, 10.56], "nice": false, "zero": false}, "axis": {"title": null, "labels": false}}, "y": {"field": "lo", "type": "quantitative", "scale": {"domain": [0.145, 1.04], "nice": false, "zero": false}, "axis": {"title": ["P(stay) after", "different first state"], "values": [0.2, 0.5, 0.8], "format": ".1f", "labelPadding": 11, "titlePadding": 15}}, "y2": {"field": "hi"}}},
    {"data": {"name": "apts"}, "transform": [{"filter": "datum.drug=='Ami'&&datum.cond=='diff'"}], "mark": {"type": "circle", "size": 24, "opacity": 1}, "encoding": {"x": {"field": "x", "type": "quantitative", "scale": {"domain": [0.44, 10.56], "nice": false, "zero": false}, "axis": {"title": null, "labels": false}}, "y": {"field": "y", "type": "quantitative", "scale": {"domain": [0.145, 1.04], "nice": false, "zero": false}, "axis": {"title": ["P(stay) after", "different first state"], "values": [0.2, 0.5, 0.8], "format": ".1f", "labelPadding": 11, "titlePadding": 15}}, "fill": {"field": "session", "type": "nominal", "scale": {"domain": ["1", "2"], "range": ["#999999", "#E69F00"]}, "legend": null}}}
  ]},
  {"width": 90, "height": 108, "layer": [
    {"data": {"name": "afit"}, "transform": [{"filter": "datum.drug=='Nal'&&datum.cond=='diff'"}], "mark": {"type": "area", "interpolate": "monotone", "color": "#8c8c8c", "opacity": 0.3}, "encoding": {"x": {"field": "x", "type": "quantitative", "scale": {"domain": [0.44, 10.56], "nice": false, "zero": false}, "axis": {"title": "Previous Points", "labels": false, "titlePadding": 8, "titleFontSize": 14, "titleLimit": 400}}, "y": {"field": "lo", "type": "quantitative", "scale": {"domain": [0.145, 1.04], "nice": false, "zero": false}, "axis": null}, "y2": {"field": "hi"}, "detail": {"field": "session"}}},
    {"data": {"values": [{"ref": 0.5}]}, "mark": {"type": "rule", "strokeDash": [4, 3], "color": "#111", "strokeWidth": 1}, "encoding": {"y": {"field": "ref", "type": "quantitative", "scale": {"domain": [0.145, 1.04], "nice": false, "zero": false}, "axis": null}}},
    {"data": {"name": "afit"}, "transform": [{"filter": "datum.drug=='Nal'&&datum.cond=='diff'"}], "mark": {"type": "line", "interpolate": "monotone", "strokeWidth": 1.4}, "encoding": {"x": {"field": "x", "type": "quantitative", "scale": {"domain": [0.44, 10.56], "nice": false, "zero": false}, "axis": {"title": "Previous Points", "labels": false, "titlePadding": 8, "titleFontSize": 14, "titleLimit": 400}}, "y": {"field": "y", "type": "quantitative", "scale": {"domain": [0.145, 1.04], "nice": false, "zero": false}, "axis": null}, "stroke": {"field": "session", "type": "nominal", "scale": {"domain": ["1", "2"], "range": ["#8a8a8a", "#E69F00"]}, "legend": null}}},
    {"data": {"name": "apts"}, "transform": [{"filter": "datum.drug=='Nal'&&datum.cond=='diff'"}], "mark": {"type": "rule", "color": "#333", "strokeWidth": 1.1}, "encoding": {"x": {"field": "x", "type": "quantitative", "scale": {"domain": [0.44, 10.56], "nice": false, "zero": false}, "axis": {"title": "Previous Points", "labels": false, "titlePadding": 8, "titleFontSize": 14, "titleLimit": 400}}, "y": {"field": "lo", "type": "quantitative", "scale": {"domain": [0.145, 1.04], "nice": false, "zero": false}, "axis": null}, "y2": {"field": "hi"}}},
    {"data": {"name": "apts"}, "transform": [{"filter": "datum.drug=='Nal'&&datum.cond=='diff'"}], "mark": {"type": "circle", "size": 24, "opacity": 1}, "encoding": {"x": {"field": "x", "type": "quantitative", "scale": {"domain": [0.44, 10.56], "nice": false, "zero": false}, "axis": {"title": "Previous Points", "labels": false, "titlePadding": 8, "titleFontSize": 14, "titleLimit": 400}}, "y": {"field": "y", "type": "quantitative", "scale": {"domain": [0.145, 1.04], "nice": false, "zero": false}, "axis": null}, "fill": {"field": "session", "type": "nominal", "scale": {"domain": ["1", "2"], "range": ["#999999", "#E69F00"]}, "legend": null}}}
  ]},
  {"width": 90, "height": 108, "layer": [
    {"data": {"name": "afit"}, "transform": [{"filter": "datum.drug=='Pla'&&datum.cond=='diff'"}], "mark": {"type": "area", "interpolate": "monotone", "color": "#8c8c8c", "opacity": 0.3}, "encoding": {"x": {"field": "x", "type": "quantitative", "scale": {"domain": [0.44, 10.56], "nice": false, "zero": false}, "axis": {"title": null, "labels": false}}, "y": {"field": "lo", "type": "quantitative", "scale": {"domain": [0.145, 1.04], "nice": false, "zero": false}, "axis": null}, "y2": {"field": "hi"}, "detail": {"field": "session"}}},
    {"data": {"values": [{"ref": 0.5}]}, "mark": {"type": "rule", "strokeDash": [4, 3], "color": "#111", "strokeWidth": 1}, "encoding": {"y": {"field": "ref", "type": "quantitative", "scale": {"domain": [0.145, 1.04], "nice": false, "zero": false}, "axis": null}}},
    {"data": {"name": "afit"}, "transform": [{"filter": "datum.drug=='Pla'&&datum.cond=='diff'"}], "mark": {"type": "line", "interpolate": "monotone", "strokeWidth": 1.4}, "encoding": {"x": {"field": "x", "type": "quantitative", "scale": {"domain": [0.44, 10.56], "nice": false, "zero": false}, "axis": {"title": null, "labels": false}}, "y": {"field": "y", "type": "quantitative", "scale": {"domain": [0.145, 1.04], "nice": false, "zero": false}, "axis": null}, "stroke": {"field": "session", "type": "nominal", "scale": {"domain": ["1", "2"], "range": ["#8a8a8a", "#E69F00"]}, "legend": {"title": "session", "orient": "none", "legendX": 49, "legendY": -25, "symbolType": "stroke", "symbolStrokeWidth": 1.6, "symbolSize": 40}}}},
    {"data": {"name": "apts"}, "transform": [{"filter": "datum.drug=='Pla'&&datum.cond=='diff'"}], "mark": {"type": "rule", "color": "#333", "strokeWidth": 1.1}, "encoding": {"x": {"field": "x", "type": "quantitative", "scale": {"domain": [0.44, 10.56], "nice": false, "zero": false}, "axis": {"title": null, "labels": false}}, "y": {"field": "lo", "type": "quantitative", "scale": {"domain": [0.145, 1.04], "nice": false, "zero": false}, "axis": null}, "y2": {"field": "hi"}}},
    {"data": {"name": "apts"}, "transform": [{"filter": "datum.drug=='Pla'&&datum.cond=='diff'"}], "mark": {"type": "circle", "size": 24, "opacity": 1}, "encoding": {"x": {"field": "x", "type": "quantitative", "scale": {"domain": [0.44, 10.56], "nice": false, "zero": false}, "axis": {"title": null, "labels": false}}, "y": {"field": "y", "type": "quantitative", "scale": {"domain": [0.145, 1.04], "nice": false, "zero": false}, "axis": null}, "fill": {"field": "session", "type": "nominal", "scale": {"domain": ["1", "2"], "range": ["#999999", "#E69F00"]}, "legend": null}}}
  ]},
  {"width": 79, "height": 108, "data": {"values": []}, "mark": "point"},
  {"width": 87, "height": 108, "layer": [
    {"data": {"name": "bfit"}, "transform": [{"filter": "datum.drug=='Ami'&&datum.cond=='diff'"}], "mark": {"type": "area", "interpolate": "monotone", "opacity": 0.22, "clip": true}, "encoding": {"x": {"field": "x", "type": "quantitative", "scale": {"domain": [0.58, 5.42], "nice": false, "zero": false}, "axis": {"title": null, "labels": false}}, "y": {"field": "lo", "type": "quantitative", "scale": {"domain": [-0.116, 0.165], "nice": false, "zero": false}, "axis": {"title": ["Δ P(stay) after", "different first state"], "values": [-0.1, 0, 0.1], "format": ".1f", "labelPadding": 23, "titlePadding": 3}}, "y2": {"field": "hi"}, "color": {"field": "drug", "type": "nominal", "scale": {"domain": ["Ami", "Nal", "Pla"], "range": ["#F8766D", "#00BA38", "#619CFF"]}, "legend": null}}},
    {"data": {"values": [{"ref": 0}]}, "mark": {"type": "rule", "strokeDash": [4, 3], "color": "#111", "strokeWidth": 1}, "encoding": {"y": {"field": "ref", "type": "quantitative", "scale": {"domain": [-0.116, 0.165], "nice": false, "zero": false}, "axis": {"title": ["Δ P(stay) after", "different first state"], "values": [-0.1, 0, 0.1], "format": ".1f", "labelPadding": 23, "titlePadding": 3}}}},
    {"data": {"name": "bfit"}, "transform": [{"filter": "datum.drug=='Ami'&&datum.cond=='diff'"}], "mark": {"type": "line", "interpolate": "monotone", "color": "#111", "strokeWidth": 1.2}, "encoding": {"x": {"field": "x", "type": "quantitative", "scale": {"domain": [0.58, 5.42], "nice": false, "zero": false}, "axis": {"title": null, "labels": false}}, "y": {"field": "y", "type": "quantitative", "scale": {"domain": [-0.116, 0.165], "nice": false, "zero": false}, "axis": {"title": ["Δ P(stay) after", "different first state"], "values": [-0.1, 0, 0.1], "format": ".1f", "labelPadding": 23, "titlePadding": 3}}}},
    {"data": {"name": "bpts"}, "transform": [{"filter": "datum.drug=='Ami'&&datum.cond=='diff'"}], "mark": {"type": "rule", "color": "#1a1a1a", "strokeWidth": 1.2, "clip": true}, "encoding": {"x": {"field": "x", "type": "quantitative", "scale": {"domain": [0.58, 5.42], "nice": false, "zero": false}, "axis": {"title": null, "labels": false}}, "y": {"field": "lo", "type": "quantitative", "scale": {"domain": [-0.116, 0.165], "nice": false, "zero": false}, "axis": {"title": ["Δ P(stay) after", "different first state"], "values": [-0.1, 0, 0.1], "format": ".1f", "labelPadding": 23, "titlePadding": 3}}, "y2": {"field": "hi"}}},
    {"data": {"name": "bpts"}, "transform": [{"filter": "datum.drug=='Ami'&&datum.cond=='diff'"}], "mark": {"type": "circle", "size": 48, "opacity": 0.85}, "encoding": {"x": {"field": "x", "type": "quantitative", "scale": {"domain": [0.58, 5.42], "nice": false, "zero": false}, "axis": {"title": null, "labels": false}}, "y": {"field": "y", "type": "quantitative", "scale": {"domain": [-0.116, 0.165], "nice": false, "zero": false}, "axis": {"title": ["Δ P(stay) after", "different first state"], "values": [-0.1, 0, 0.1], "format": ".1f", "labelPadding": 23, "titlePadding": 3}}, "color": {"field": "drug", "type": "nominal", "scale": {"domain": ["Ami", "Nal", "Pla"], "range": ["#F8766D", "#00BA38", "#619CFF"]}, "legend": null}}}
  ]},
  {"width": 87, "height": 108, "layer": [
    {"data": {"name": "bfit"}, "transform": [{"filter": "datum.drug=='Nal'&&datum.cond=='diff'"}], "mark": {"type": "area", "interpolate": "monotone", "opacity": 0.22, "clip": true}, "encoding": {"x": {"field": "x", "type": "quantitative", "scale": {"domain": [0.58, 5.42], "nice": false, "zero": false}, "axis": {"title": "Previous Points", "labels": false, "titlePadding": 8, "titleFontSize": 14, "titleLimit": 400}}, "y": {"field": "lo", "type": "quantitative", "scale": {"domain": [-0.116, 0.165], "nice": false, "zero": false}, "axis": null}, "y2": {"field": "hi"}, "color": {"field": "drug", "type": "nominal", "scale": {"domain": ["Ami", "Nal", "Pla"], "range": ["#F8766D", "#00BA38", "#619CFF"]}, "legend": null}}},
    {"data": {"values": [{"ref": 0}]}, "mark": {"type": "rule", "strokeDash": [4, 3], "color": "#111", "strokeWidth": 1}, "encoding": {"y": {"field": "ref", "type": "quantitative", "scale": {"domain": [-0.116, 0.165], "nice": false, "zero": false}, "axis": null}}},
    {"data": {"name": "bfit"}, "transform": [{"filter": "datum.drug=='Nal'&&datum.cond=='diff'"}], "mark": {"type": "line", "interpolate": "monotone", "color": "#111", "strokeWidth": 1.2}, "encoding": {"x": {"field": "x", "type": "quantitative", "scale": {"domain": [0.58, 5.42], "nice": false, "zero": false}, "axis": {"title": "Previous Points", "labels": false, "titlePadding": 8, "titleFontSize": 14, "titleLimit": 400}}, "y": {"field": "y", "type": "quantitative", "scale": {"domain": [-0.116, 0.165], "nice": false, "zero": false}, "axis": null}}},
    {"data": {"name": "bpts"}, "transform": [{"filter": "datum.drug=='Nal'&&datum.cond=='diff'"}], "mark": {"type": "rule", "color": "#1a1a1a", "strokeWidth": 1.2, "clip": true}, "encoding": {"x": {"field": "x", "type": "quantitative", "scale": {"domain": [0.58, 5.42], "nice": false, "zero": false}, "axis": {"title": "Previous Points", "labels": false, "titlePadding": 8, "titleFontSize": 14, "titleLimit": 400}}, "y": {"field": "lo", "type": "quantitative", "scale": {"domain": [-0.116, 0.165], "nice": false, "zero": false}, "axis": null}, "y2": {"field": "hi"}}},
    {"data": {"name": "bpts"}, "transform": [{"filter": "datum.drug=='Nal'&&datum.cond=='diff'"}], "mark": {"type": "circle", "size": 48, "opacity": 0.85}, "encoding": {"x": {"field": "x", "type": "quantitative", "scale": {"domain": [0.58, 5.42], "nice": false, "zero": false}, "axis": {"title": "Previous Points", "labels": false, "titlePadding": 8, "titleFontSize": 14, "titleLimit": 400}}, "y": {"field": "y", "type": "quantitative", "scale": {"domain": [-0.116, 0.165], "nice": false, "zero": false}, "axis": null}, "color": {"field": "drug", "type": "nominal", "scale": {"domain": ["Ami", "Nal", "Pla"], "range": ["#F8766D", "#00BA38", "#619CFF"]}, "legend": null}}}
  ]},
  {"width": 87, "height": 108, "layer": [
    {"data": {"name": "bfit"}, "transform": [{"filter": "datum.drug=='Pla'&&datum.cond=='diff'"}], "mark": {"type": "area", "interpolate": "monotone", "opacity": 0.22, "clip": true}, "encoding": {"x": {"field": "x", "type": "quantitative", "scale": {"domain": [0.58, 5.42], "nice": false, "zero": false}, "axis": {"title": null, "labels": false}}, "y": {"field": "lo", "type": "quantitative", "scale": {"domain": [-0.116, 0.165], "nice": false, "zero": false}, "axis": null}, "y2": {"field": "hi"}, "color": {"field": "drug", "type": "nominal", "scale": {"domain": ["Ami", "Nal", "Pla"], "range": ["#F8766D", "#00BA38", "#619CFF"]}, "legend": {"title": "drug", "orient": "none", "legendX": 69, "legendY": -26, "symbolType": "square", "symbolSize": 55, "symbolOpacity": 0.6, "titleFontSize": 9, "labelFontSize": 7.5}}}},
    {"data": {"values": [{"ref": 0}]}, "mark": {"type": "rule", "strokeDash": [4, 3], "color": "#111", "strokeWidth": 1}, "encoding": {"y": {"field": "ref", "type": "quantitative", "scale": {"domain": [-0.116, 0.165], "nice": false, "zero": false}, "axis": null}}},
    {"data": {"name": "bfit"}, "transform": [{"filter": "datum.drug=='Pla'&&datum.cond=='diff'"}], "mark": {"type": "line", "interpolate": "monotone", "color": "#111", "strokeWidth": 1.2}, "encoding": {"x": {"field": "x", "type": "quantitative", "scale": {"domain": [0.58, 5.42], "nice": false, "zero": false}, "axis": {"title": null, "labels": false}}, "y": {"field": "y", "type": "quantitative", "scale": {"domain": [-0.116, 0.165], "nice": false, "zero": false}, "axis": null}}},
    {"data": {"name": "bpts"}, "transform": [{"filter": "datum.drug=='Pla'&&datum.cond=='diff'"}], "mark": {"type": "rule", "color": "#1a1a1a", "strokeWidth": 1.2, "clip": true}, "encoding": {"x": {"field": "x", "type": "quantitative", "scale": {"domain": [0.58, 5.42], "nice": false, "zero": false}, "axis": {"title": null, "labels": false}}, "y": {"field": "lo", "type": "quantitative", "scale": {"domain": [-0.116, 0.165], "nice": false, "zero": false}, "axis": null}, "y2": {"field": "hi"}}},
    {"data": {"name": "bpts"}, "transform": [{"filter": "datum.drug=='Pla'&&datum.cond=='diff'"}], "mark": {"type": "circle", "size": 48, "opacity": 0.85}, "encoding": {"x": {"field": "x", "type": "quantitative", "scale": {"domain": [0.58, 5.42], "nice": false, "zero": false}, "axis": {"title": null, "labels": false}}, "y": {"field": "y", "type": "quantitative", "scale": {"domain": [-0.116, 0.165], "nice": false, "zero": false}, "axis": null}, "color": {"field": "drug", "type": "nominal", "scale": {"domain": ["Ami", "Nal", "Pla"], "range": ["#F8766D", "#00BA38", "#619CFF"]}, "legend": {"title": "drug", "orient": "none", "legendX": 69, "legendY": -26, "symbolType": "square", "symbolSize": 55, "symbolOpacity": 0.6, "titleFontSize": 9, "labelFontSize": 7.5}}}}
  ]}
  ]},
  {"hconcat": [
    {"width": 65, "height": 69, "data": {"values": []}, "mark": "point"},
    {"width": 597, "height": 69, "title": {"text": "c", "dx": 0, "offset": -7}, "layer": [
      {"data": {"name": "cdat"}, "mark": {"type": "rule", "strokeDash": [2, 2], "color": "#c4c4c4", "strokeWidth": 0.8}, "encoding": {"y": {"field": "term", "type": "nominal", "sort": null, "scale": {"type": "point", "padding": 0.6, "domain": ["Prev points", "PrevPoints:PrevState", "Ami:Session:PrevPoints:PrevState", "Nal:Session:PrevPoints:PrevState"]}, "axis": {"title": null, "ticks": true, "tickSize": 3, "tickColor": "#333", "labelFontSize": 9, "labelColor": "#333", "labelPadding": 3, "labelLimit": 300}}}},
      {"data": {"values": [{"ref": 0}]}, "mark": {"type": "rule", "strokeDash": [4, 3], "color": "#111", "strokeWidth": 1}, "encoding": {"x": {"field": "ref", "type": "quantitative", "scale": {"domain": [-0.366, 0.585], "nice": false, "zero": false}, "axis": {"title": null, "values": [-0.2, 0, 0.2, 0.4], "format": ".1f", "ticks": true, "tickSize": 3, "tickColor": "#333", "labelFontSize": 10.5, "labelColor": "#333", "labelPadding": 3}}}},
      {"data": {"name": "cdat"}, "mark": {"type": "rule", "color": "#d9363b", "strokeWidth": 1.3}, "encoding": {"x": {"field": "lo95", "type": "quantitative", "scale": {"domain": [-0.366, 0.585], "nice": false, "zero": false}, "axis": {"title": null, "values": [-0.2, 0, 0.2, 0.4], "format": ".1f", "ticks": true, "tickSize": 3, "tickColor": "#333", "labelFontSize": 10.5, "labelColor": "#333", "labelPadding": 3}}, "x2": {"field": "hi95"}, "y": {"field": "term", "type": "nominal", "sort": null, "scale": {"type": "point", "padding": 0.6, "domain": ["Prev points", "PrevPoints:PrevState", "Ami:Session:PrevPoints:PrevState", "Nal:Session:PrevPoints:PrevState"]}, "axis": {"title": null, "ticks": true, "tickSize": 3, "tickColor": "#333", "labelFontSize": 9, "labelColor": "#333", "labelPadding": 3, "labelLimit": 300}}}},
      {"data": {"name": "cdat"}, "mark": {"type": "rule", "color": "#c0232a", "strokeWidth": 4.2}, "encoding": {"x": {"field": "lo50", "type": "quantitative", "scale": {"domain": [-0.366, 0.585], "nice": false, "zero": false}, "axis": {"title": null, "values": [-0.2, 0, 0.2, 0.4], "format": ".1f", "ticks": true, "tickSize": 3, "tickColor": "#333", "labelFontSize": 10.5, "labelColor": "#333", "labelPadding": 3}}, "x2": {"field": "hi50"}, "y": {"field": "term", "type": "nominal", "sort": null, "scale": {"type": "point", "padding": 0.6, "domain": ["Prev points", "PrevPoints:PrevState", "Ami:Session:PrevPoints:PrevState", "Nal:Session:PrevPoints:PrevState"]}, "axis": {"title": null, "ticks": true, "tickSize": 3, "tickColor": "#333", "labelFontSize": 9, "labelColor": "#333", "labelPadding": 3, "labelLimit": 300}}}},
      {"data": {"name": "cdat"}, "mark": {"type": "circle", "color": "#c0232a", "size": 55, "opacity": 1}, "encoding": {"x": {"field": "est", "type": "quantitative", "scale": {"domain": [-0.366, 0.585], "nice": false, "zero": false}, "axis": {"title": null, "values": [-0.2, 0, 0.2, 0.4], "format": ".1f", "ticks": true, "tickSize": 3, "tickColor": "#333", "labelFontSize": 10.5, "labelColor": "#333", "labelPadding": 3}}, "y": {"field": "term", "type": "nominal", "sort": null, "scale": {"type": "point", "padding": 0.6, "domain": ["Prev points", "PrevPoints:PrevState", "Ami:Session:PrevPoints:PrevState", "Nal:Session:PrevPoints:PrevState"]}, "axis": {"title": null, "ticks": true, "tickSize": 3, "tickColor": "#333", "labelFontSize": 9, "labelColor": "#333", "labelPadding": 3, "labelLimit": 300}}}}
    ]}
  ], "spacing": 9, "bounds": "flush"}
]
}
